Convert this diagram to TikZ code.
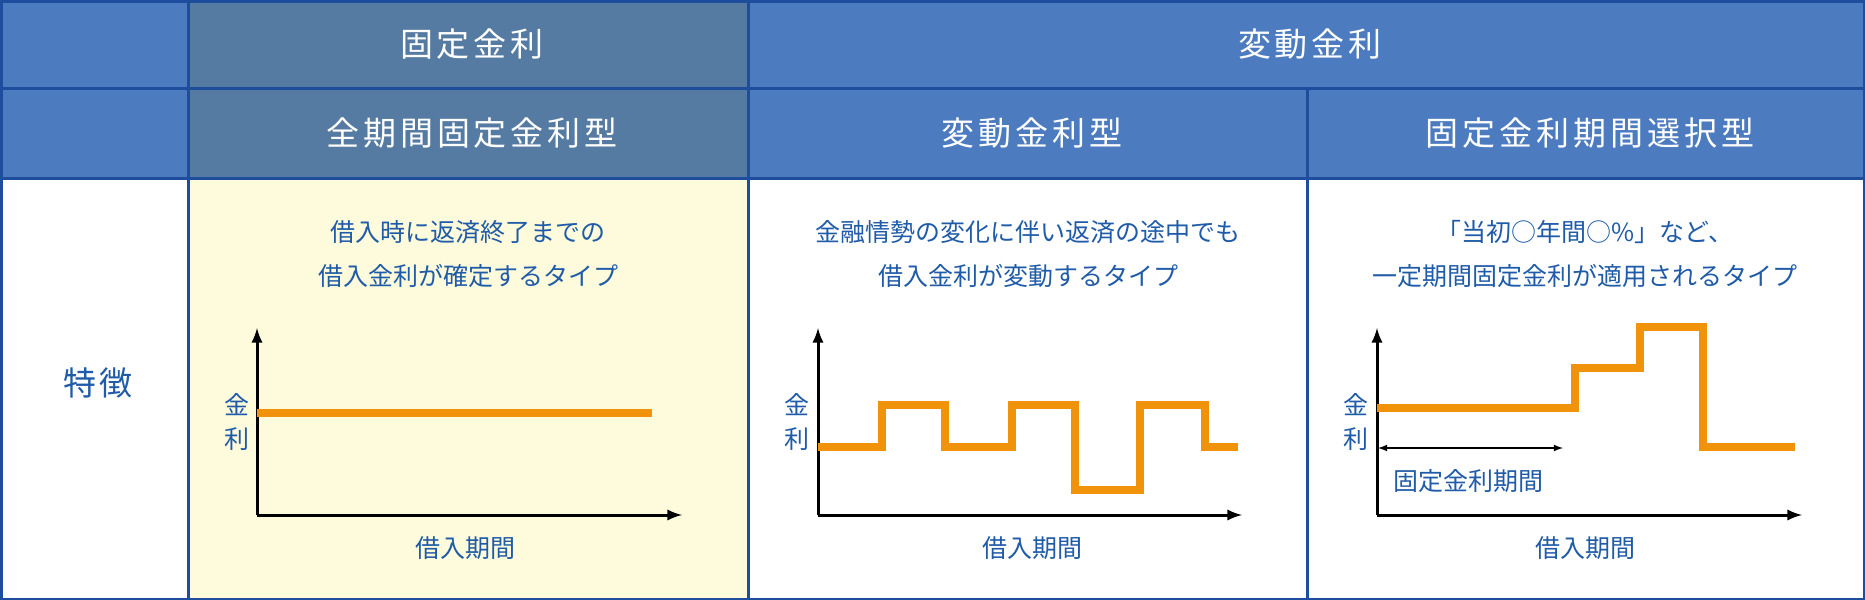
\documentclass[tikz,border=0pt]{standalone}
\usepackage{fontspec}
\setmainfont{Noto Sans CJK JP}
\begin{document}
\begin{tikzpicture}[x=0.5pt,y=-0.5pt,
 hd/.style={text=white,font=\fontsize{16.5}{18}\selectfont\addfontfeatures{LetterSpace=12}},
 bt/.style={text=txtb,font=\fontsize{12.5}{22}\selectfont,align=center},
 ax/.style={line width=1.5pt,-latex},
 og/.style={draw=orng,line width=4pt,line join=miter}]
\definecolor{bdr}{HTML}{1E4D9E}\definecolor{hb}{HTML}{4C7BC0}\definecolor{hs}{HTML}{557BA3}
\definecolor{yl}{HTML}{FDFBDB}\definecolor{txtb}{HTML}{1F5BA8}\definecolor{orng}{HTML}{F0920A}
\useasboundingbox (0,0) rectangle (1865,600);
\fill[white] (0,0) rectangle (1865,600);
\fill[hb] (0,0) rectangle (1865,178);
\fill[hs] (188,0) rectangle (748,178);
\fill[yl] (188,178) rectangle (748,600);
\draw[bdr,line width=1.5pt] (1,1) rectangle (1864,599);
\draw[bdr,line width=1.5pt] (188,0)--(188,600) (748,0)--(748,600) (1307,88)--(1307,600) (0,88)--(1865,88) (0,178)--(1865,178);
\node[hd] (h1) at (472,44) {固定金利};
\node[hd] (h2) at (1310,44) {変動金利};
\node[hd] (h3) at (472,133) {全期間固定金利型};
\node[hd] (h4) at (1032,133) {変動金利型};
\node[hd] (h5) at (1590,133) {固定金利期間選択型};
\node[text=txtb,font=\fontsize{16.5}{18}\selectfont\addfontfeatures{LetterSpace=12}] (tk) at (98,383) {特徴};
\node[bt] (d1) at (468,254) {借入時に返済終了までの\\借入金利が確定するタイプ};
\node[bt] (d2) at (1028,254) {金融情勢の変化に伴い返済の途中でも\\借入金利が変動するタイプ};
\node[bt] (d3) at (1585,254) {「当初○年間○\%」など、\\一定期間固定金利が適用されるタイプ};
% chart1
\coordinate (o1) at (257,515);
\draw[ax] (o1)--(257,328); \draw[ax] (o1)--(682,515);
\draw[og] (257,413)--(652,413);
\node[bt,font=\fontsize{12.5}{17}\selectfont] (k1) at (237,422) {金\\利};
\node[bt] (p1) at (465,548) {借入期間};
% chart2
\coordinate (o2) at (818,515);
\draw[ax] (o2)--(818,328); \draw[ax] (o2)--(1242,515);
\draw[og] (818,447)-|(882,405)-|(945,447)-|(1012,405)-|(1075,490)-|(1140,405)-|(1205,447)--(1238,447);
\node[bt,font=\fontsize{12.5}{17}\selectfont] (k2) at (797,422) {金\\利};
\node[bt] (p2) at (1032,548) {借入期間};
% chart3
\coordinate (o3) at (1377,515);
\draw[ax] (o3)--(1377,328); \draw[ax] (o3)--(1802,515);
\draw[og] (1377,408)-|(1575,368)-|(1640,327)-|(1703,447)--(1795,447);
\coordinate (a1) at (1378,448); \coordinate (a2) at (1563,448);
\draw[latex-latex,line width=0.6pt] (a1)--(a2);
\node[bt,font=\fontsize{12.5}{17}\selectfont] (k3) at (1356,422) {金\\利};
\node[bt] (f3) at (1468,481) {固定金利期間};
\node[bt] (p3) at (1585,548) {借入期間};
\end{tikzpicture}
\end{document}
